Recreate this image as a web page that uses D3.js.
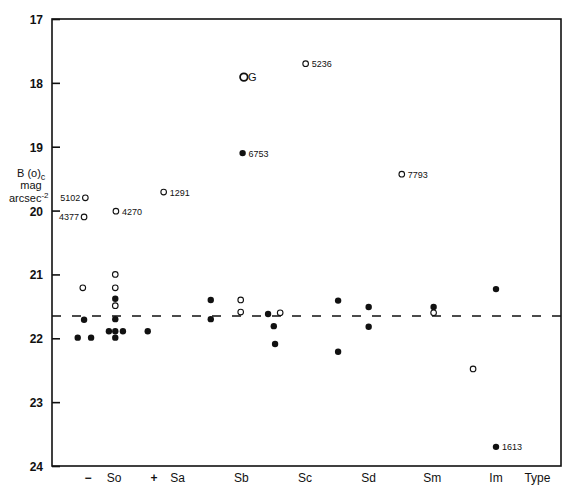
<!DOCTYPE html>
<html lang="en">
<head>
    <meta charset="UTF-8">
    <title>B(0)c vs type</title>
    <script src="https://cdn.jsdelivr.net/npm/d3@7"></script>
    <style>
        body { margin: 0; background: #fff; }
        text { font-family: "Liberation Sans", Arial, sans-serif; fill: #111; }
    </style>
</head>
<body>
    <script>
        // morphological types along the bottom (So = 0, Sa = 1, ...)
        var typeNames = ["\u2212", "So", "+", "Sa", "Sb", "Sc", "Sd", "Sm", "Im"];
        var typePos = [-0.41, 0, 0.63, 1, 2, 3, 4, 5, 6];
        var magTicks = [17, 18, 19, 20, 21, 22, 23, 24];

        // filled symbols
        var filledType = [-0.57, -0.47, -0.36, -0.08, 0.02, 0.02, 0.02, 0.14, 0.02, 0.53,
                          1.52, 1.52, 2.02, 2.42, 2.51, 2.53, 3.52, 3.52, 4.0, 4.0, 5.02, 6.0, 6.0];
        var filledMag = [21.99, 21.71, 21.99, 21.89, 21.99, 21.70, 21.38, 21.89, 21.89, 21.89,
                         21.40, 21.70, 19.10, 21.62, 21.81, 22.09, 21.41, 22.21, 21.51, 21.82, 21.51, 21.23, 23.70];
        var filledLabel = ["", "", "", "", "", "", "", "", "", "",
                           "", "", "6753", "", "", "", "", "", "", "", "", "", "1613"];

        // open symbols
        var openType = [-0.45, -0.47, 0.03, 0.78, 2.04, 3.01, 4.52, -0.49, 0.02, 0.02, 0.02,
                        1.99, 1.99, 2.61, 5.02, 5.64];
        var openMag = [19.80, 20.10, 20.01, 19.71, 17.91, 17.70, 19.43, 21.21, 21.00, 21.21, 21.49,
                       21.40, 21.59, 21.60, 21.60, 22.48];
        var openLabel = ["5102", "4377", "4270", "1291", "G", "5236", "7793", "", "", "", "",
                         "", "", "", "", ""];

        var meanMag = 21.65;

        var w = 570, h = 500;
        var plotL = 52, plotR = 561, plotT = 19, plotB = 466;

        var x = d3.scaleLinear().domain([0, 6]).range([114, 496]);
        var y = d3.scaleLinear().domain([17, 24]).range([plotT, plotB]);

        var svg = d3.select("body").append("svg")
            .attr("width", w)
            .attr("height", h);

        // frame
        svg.append("rect")
            .attr("x", plotL).attr("y", plotT)
            .attr("width", plotR - plotL).attr("height", plotB - plotT)
            .attr("fill", "none")
            .attr("stroke", "#111")
            .attr("stroke-width", 1.6);

        // y axis, ticks pointing inwards
        var yAxis = d3.axisRight(y).tickValues(magTicks).tickSize(8).tickFormat("");
        svg.append("g")
            .attr("transform", "translate(" + plotL + ",0)")
            .call(yAxis)
            .call(function (g) {
                g.select(".domain").remove();
                g.selectAll("line").attr("stroke", "#111").attr("stroke-width", 1.6);
            });

        svg.selectAll("text.ytick")
            .data(magTicks)
            .enter().append("text")
            .attr("class", "ytick")
            .attr("x", 43)
            .attr("y", function (d) { return y(d) + 5; })
            .attr("text-anchor", "end")
            .attr("font-size", 12)
            .attr("font-weight", "bold")
            .text(function (d) { return d; });

        // axis title
        var yt = svg.append("text").attr("font-size", 11);
        yt.append("tspan").attr("x", 17).attr("y", 177).text("B (o)");
        yt.append("tspan").attr("dy", 3).attr("font-size", 9).text("c");
        svg.append("text").attr("x", 31).attr("y", 189).attr("text-anchor", "middle")
            .attr("font-size", 11).text("mag");
        var ya = svg.append("text").attr("font-size", 11);
        ya.append("tspan").attr("x", 9).attr("y", 202).text("arcsec");
        ya.append("tspan").attr("dy", -4).attr("font-size", 8).text("-2");

        // type labels
        svg.selectAll("text.xcat")
            .data(typeNames)
            .enter().append("text")
            .attr("class", "xcat")
            .attr("x", function (d, i) { return x(typePos[i]); })
            .attr("y", 482)
            .attr("text-anchor", "middle")
            .attr("font-size", 12)
            .attr("font-weight", function (d) { return d === "\u2212" || d === "+" ? "bold" : "normal"; })
            .text(function (d) { return d; });
        svg.append("text")
            .attr("x", x(6.65)).attr("y", 482)
            .attr("text-anchor", "middle")
            .attr("font-size", 12)
            .text("Type");

        // mean line
        svg.append("line")
            .attr("x1", plotL).attr("x2", plotR)
            .attr("y1", y(meanMag)).attr("y2", y(meanMag))
            .attr("stroke", "#111")
            .attr("stroke-width", 1.6)
            .attr("stroke-dasharray", "9,11");

        // points
        svg.selectAll("circle.filled")
            .data(filledMag)
            .enter().append("circle")
            .attr("class", "filled")
            .attr("cx", function (d, i) { return x(filledType[i]); })
            .attr("cy", function (d) { return y(d); })
            .attr("r", 3.2)
            .attr("fill", "#111");

        svg.selectAll("circle.open")
            .data(openMag)
            .enter().append("circle")
            .attr("class", "open")
            .attr("cx", function (d, i) { return x(openType[i]); })
            .attr("cy", function (d) { return y(d); })
            .attr("r", function (d, i) { return openLabel[i] === "G" ? 3.8 : 2.8; })
            .attr("fill", "#fff")
            .attr("stroke", "#111")
            .attr("stroke-width", function (d, i) { return openLabel[i] === "G" ? 1.8 : 1.1; });

        // labels: 5102 and 4377 sit to the left of their circles
        function addLabels(types, mags, labels) {
            labels.forEach(function (t, i) {
                if (!t) return;
                var onLeft = t === "5102" || t === "4377";
                svg.append("text")
                    .attr("x", x(types[i]) + (onLeft ? -5 : (t === "G" ? 4 : 6)))
                    .attr("y", y(mags[i]) + 3.5)
                    .attr("text-anchor", onLeft ? "end" : "start")
                    .attr("font-size", t === "G" ? 11 : 9)
                    .text(t);
            });
        }
        addLabels(filledType, filledMag, filledLabel);
        addLabels(openType, openMag, openLabel);
    </script>
</body>
</html>
